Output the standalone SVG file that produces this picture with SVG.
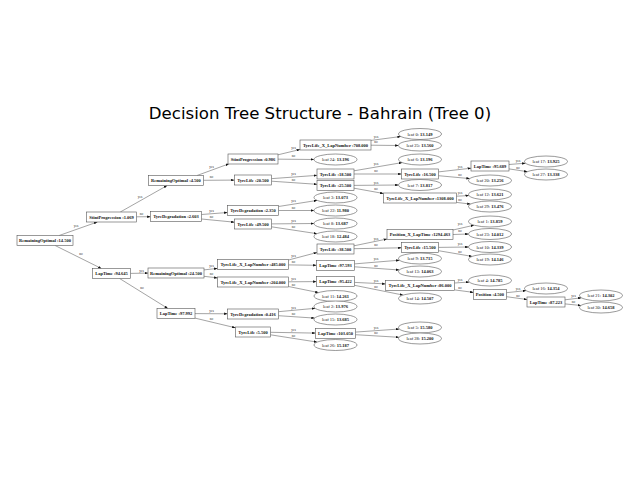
<svg xmlns="http://www.w3.org/2000/svg" width="640" height="480" viewBox="0 0 640 480">
<defs>
<style>
.bx{fill:#fff;stroke:#555;stroke-width:0.6}
.lf{fill:#fff;stroke:#555;stroke-width:0.6}
.t{font-family:"Liberation Serif","Times New Roman",serif;font-size:4.5px;text-anchor:middle;fill:#111}
.b{font-weight:bold}
.e{stroke:#333;stroke-width:0.45;fill:none;marker-end:url(#arr)}
.l{font-family:"Liberation Serif","Times New Roman",serif;font-size:3.4px;text-anchor:middle;fill:#222}
.title{font-family:"DejaVu Sans",sans-serif;font-size:16.6px;text-anchor:middle;fill:#000}
</style>
<marker id="arr" viewBox="0 0 4 3" refX="4" refY="1.5" markerWidth="3.4" markerHeight="2.6" markerUnits="userSpaceOnUse" orient="auto">
<path d="M0,0 L4,1.5 L0,3 z" fill="#111"/>
</marker>
</defs>
<rect width="640" height="480" fill="#fff"/>
<text class="title" x="320" y="119">Decision Tree Structure - Bahrain (Tree 0)</text>

<g id="edges">
<path class="e" d="M59.15,235.5 L97.35,222"/>
<path class="e" d="M55.1,245.5 L101.4,268.5"/>
<path class="e" d="M120.3,212 L167.2,185.5"/>
<path class="e" d="M136.5,216.8 L150.5,216.7"/>
<path class="e" d="M130.5,273.4 L148,273.1"/>
<path class="e" d="M119.6,278.5 L167.9,308.5"/>
<path class="e" d="M197,175.5 L229,163.8"/>
<path class="e" d="M203.5,180.3 L234.5,180.1"/>
<path class="e" d="M201.5,214.5 L227.5,212.5"/>
<path class="e" d="M201.5,219 L234.5,222.2"/>
<path class="e" d="M204,269.9 L217.5,268.4"/>
<path class="e" d="M204,276.3 L217.5,277.9"/>
<path class="e" d="M195,313.6 L227.5,313.8"/>
<path class="e" d="M195,318.1 L235.5,327.8"/>
<path class="e" d="M278,154.8 L300,149.5"/>
<path class="e" d="M278,159.15 L314,159.5"/>
<path class="e" d="M271.5,178.65 L317,175.35"/>
<path class="e" d="M271.5,181.2 L317,184.3"/>
<path class="e" d="M278.5,206.5 L317.2,200.4"/>
<path class="e" d="M278.5,210.5 L314,210.5"/>
<path class="e" d="M271.5,223.9 L314,223.5"/>
<path class="e" d="M271.5,226.8 L317,233.7"/>
<path class="e" d="M288.5,260 L317,252.5"/>
<path class="e" d="M288.5,264.9 L316.5,265.3"/>
<path class="e" d="M288.5,281.8 L316.5,281.6"/>
<path class="e" d="M288.5,286.5 L318.6,292.6"/>
<path class="e" d="M278.5,311.7 L315.2,308.3"/>
<path class="e" d="M278.5,315.7 L314.7,318.1"/>
<path class="e" d="M270.5,332.3 L315.5,333.1"/>
<path class="e" d="M270.5,334.8 L317.2,342.1"/>
<path class="e" d="M371,140.4 L400.8,136.5"/>
<path class="e" d="M371,145.2 L398.5,145.5"/>
<path class="e" d="M354,170.8 L402.1,162.6"/>
<path class="e" d="M354,174 L401.5,174"/>
<path class="e" d="M354,185.4 L398.5,185"/>
<path class="e" d="M354,188.2 L383.5,193.5"/>
<path class="e" d="M354,245.8 L387,239"/>
<path class="e" d="M354,248.7 L401.5,247.8"/>
<path class="e" d="M354.5,263.9 L399.5,260.2"/>
<path class="e" d="M354.5,266.8 L399.3,270"/>
<path class="e" d="M354.5,282.4 L385.5,283.9"/>
<path class="e" d="M354.5,285.3 L403.1,295.1"/>
<path class="e" d="M355.5,332.1 L399.3,329"/>
<path class="e" d="M355.5,334.7 L399.1,337.3"/>
<path class="e" d="M438.5,171.9 L471,168.2"/>
<path class="e" d="M438.5,175.7 L469.8,178.6"/>
<path class="e" d="M456.5,196.2 L468.9,195.6"/>
<path class="e" d="M456.5,202.4 L470.6,204.1"/>
<path class="e" d="M453,230 L474,225.2"/>
<path class="e" d="M453,234.5 L468.5,234"/>
<path class="e" d="M438.5,247.4 L468.5,247"/>
<path class="e" d="M438.5,250.7 L472.1,256.4"/>
<path class="e" d="M454.5,283 L469.3,282"/>
<path class="e" d="M454.5,289.9 L473.5,292.4"/>
<path class="e" d="M509,164.5 L525.5,163.2"/>
<path class="e" d="M509,168.9 L527.5,171.7"/>
<path class="e" d="M506.5,292.7 L526.1,290.6"/>
<path class="e" d="M506.5,296.7 L527,299.5"/>
<path class="e" d="M565,299.8 L581.5,297.8"/>
<path class="e" d="M565,303.9 L581,305.5"/>
<text class="l" x="76" y="227">yes</text>
<text class="l" x="81" y="255">no</text>
<text class="l" x="140" y="198">yes</text>
<text class="l" x="141.5" y="215">no</text>
<text class="l" x="141.5" y="271.5">yes</text>
<text class="l" x="142" y="288.5">no</text>
<text class="l" x="211.5" y="168.4">yes</text>
<text class="l" x="211.5" y="178.3">no</text>
<text class="l" x="211.5" y="211.9">yes</text>
<text class="l" x="211.5" y="218.2">no</text>
<text class="l" x="211.5" y="267.2">yes</text>
<text class="l" x="211.5" y="275.3">no</text>
<text class="l" x="211.5" y="311.9">yes</text>
<text class="l" x="211.5" y="320.2">no</text>
<text class="l" x="293.5" y="149.3">yes</text>
<text class="l" x="293.5" y="157.4">no</text>
<text class="l" x="293.5" y="175.2">yes</text>
<text class="l" x="293.5" y="180.9">no</text>
<text class="l" x="293.5" y="202.3">yes</text>
<text class="l" x="293.5" y="208.7">no</text>
<text class="l" x="293.5" y="221.9">yes</text>
<text class="l" x="293.5" y="228.3">no</text>
<text class="l" x="293.5" y="256.9">yes</text>
<text class="l" x="293.5" y="263.2">no</text>
<text class="l" x="293.5" y="279.9">yes</text>
<text class="l" x="293.5" y="285.7">no</text>
<text class="l" x="293.5" y="308.5">yes</text>
<text class="l" x="293.5" y="314.8">no</text>
<text class="l" x="293.5" y="330.9">yes</text>
<text class="l" x="293.5" y="336.6">no</text>
<text class="l" x="376" y="137.9">yes</text>
<text class="l" x="376" y="143.4">no</text>
<text class="l" x="376" y="165.2">yes</text>
<text class="l" x="376" y="172.2">no</text>
<text class="l" x="376" y="183.5">yes</text>
<text class="l" x="376" y="190.4">no</text>
<text class="l" x="376" y="239.5">yes</text>
<text class="l" x="376" y="246.4">no</text>
<text class="l" x="376" y="260.3">yes</text>
<text class="l" x="376" y="266.5">no</text>
<text class="l" x="376" y="281.6">yes</text>
<text class="l" x="376" y="287.8">no</text>
<text class="l" x="376" y="329.1">yes</text>
<text class="l" x="376" y="334">no</text>
<text class="l" x="460" y="167.7">yes</text>
<text class="l" x="460" y="175.9">no</text>
<text class="l" x="460" y="194.1">yes</text>
<text class="l" x="460" y="201.1">no</text>
<text class="l" x="460" y="225">yes</text>
<text class="l" x="460" y="232.4">no</text>
<text class="l" x="460" y="245.4">yes</text>
<text class="l" x="460" y="252.5">no</text>
<text class="l" x="460" y="280.9">yes</text>
<text class="l" x="460" y="288.8">no</text>
<text class="l" x="518" y="162">yes</text>
<text class="l" x="518" y="168.6">no</text>
<text class="l" x="518" y="289.7">yes</text>
<text class="l" x="518" y="296.5">no</text>
<text class="l" x="573.5" y="297">yes</text>
<text class="l" x="573.5" y="302.9">no</text>
</g>

<g id="n0"><rect class="bx" x="17" y="235.5" width="56" height="10"/><text class="t b" x="45" y="242.1">RemainingOptimal :14.500</text></g>
<g id="n1"><rect class="bx" x="86.5" y="212" width="50" height="10"/><text class="t b" x="111.5" y="218.6">StintProgression :1.069</text></g>
<g id="n2"><rect class="bx" x="92.5" y="268.5" width="38" height="10"/><text class="t b" x="111.5" y="275.1">LapTime :94.645</text></g>
<g id="n3"><rect class="bx" x="148.5" y="175.5" width="55" height="10"/><text class="t b" x="176" y="182.1">RemainingOptimal :4.500</text></g>
<g id="n4"><rect class="bx" x="150.5" y="211.5" width="51" height="10"/><text class="t b" x="176" y="218.1">TyreDegradation :2.603</text></g>
<g id="n5"><rect class="bx" x="148" y="268" width="56" height="10"/><text class="t b" x="176" y="274.6">RemainingOptimal :24.500</text></g>
<g id="n6"><rect class="bx" x="157" y="308.5" width="38" height="10"/><text class="t b" x="176" y="315.1">LapTime :97.992</text></g>
<g id="n7"><rect class="bx" x="228" y="154" width="50" height="10"/><text class="t b" x="253" y="160.6">StintProgression :0.986</text></g>
<g id="n8"><rect class="bx" x="234.5" y="175" width="37" height="10"/><text class="t b" x="253" y="181.6">TyreLife :20.500</text></g>
<g id="n9"><rect class="bx" x="227.5" y="205.5" width="51" height="10"/><text class="t b" x="253" y="212.1">TyreDegradation :2.350</text></g>
<g id="n10"><rect class="bx" x="234.5" y="219" width="37" height="10"/><text class="t b" x="253" y="225.6">TyreLife :49.500</text></g>
<g id="n11"><rect class="bx" x="217.5" y="259.5" width="71" height="10"/><text class="t b" x="253" y="266.1">TyreLife_X_LapNumber :485.000</text></g>
<g id="n12"><rect class="bx" x="217.5" y="277" width="71" height="10"/><text class="t b" x="253" y="283.6">TyreLife_X_LapNumber :204.000</text></g>
<g id="n13"><rect class="bx" x="227.5" y="309" width="51" height="10"/><text class="t b" x="253" y="315.6">TyreDegradation :0.416</text></g>
<g id="n14"><rect class="bx" x="235.5" y="327" width="35" height="10"/><text class="t b" x="253" y="333.6">TyreLife :5.500</text></g>
<g id="n15"><rect class="bx" x="300" y="140" width="71" height="10"/><text class="t b" x="335.5" y="146.6">TyreLife_X_LapNumber :708.000</text></g>
<g id="n16"><rect class="bx" x="317" y="169" width="37" height="10"/><text class="t b" x="335.5" y="175.6">TyreLife :18.500</text></g>
<g id="n17"><rect class="bx" x="317" y="180.5" width="37" height="10"/><text class="t b" x="335.5" y="187.1">TyreLife :25.500</text></g>
<g id="n18"><rect class="bx" x="317" y="244" width="37" height="10"/><text class="t b" x="335.5" y="250.6">TyreLife :38.500</text></g>
<g id="n19"><rect class="bx" x="316.5" y="260.5" width="38" height="10"/><text class="t b" x="335.5" y="267.1">LapTime :97.593</text></g>
<g id="n20"><rect class="bx" x="316.5" y="276.5" width="38" height="10"/><text class="t b" x="335.5" y="283.1">LapTime :95.422</text></g>
<g id="n21"><rect class="bx" x="315.5" y="328.5" width="40" height="10"/><text class="t b" x="335.5" y="335.1">LapTime :103.050</text></g>
<g id="n22"><rect class="bx" x="401.5" y="169" width="37" height="10"/><text class="t b" x="420" y="175.6">TyreLife :16.500</text></g>
<g id="n23"><rect class="bx" x="383.5" y="193" width="73" height="10"/><text class="t b" x="420" y="199.6">TyreLife_X_LapNumber :1308.000</text></g>
<g id="n24"><rect class="bx" x="387" y="229.5" width="66" height="10"/><text class="t b" x="420" y="236.1">Position_X_LapTime :1294.463</text></g>
<g id="n25"><rect class="bx" x="401.5" y="242.5" width="37" height="10"/><text class="t b" x="420" y="249.1">TyreLife :15.500</text></g>
<g id="n26"><rect class="bx" x="385.5" y="280.5" width="69" height="10"/><text class="t b" x="420" y="287.1">TyreLife_X_LapNumber :86.000</text></g>
<g id="n27"><rect class="bx" x="471" y="161" width="38" height="10"/><text class="t b" x="490" y="167.6">LapTime :95.689</text></g>
<g id="n28"><rect class="bx" x="473.5" y="289.5" width="33" height="10"/><text class="t b" x="490" y="296.1">Position :4.500</text></g>
<g id="n29"><rect class="bx" x="527" y="297" width="38" height="10"/><text class="t b" x="546" y="303.6">LapTime :87.223</text></g>

<g id="leaf0"><ellipse class="lf" cx="420" cy="134" rx="21.5" ry="5.5"/><text class="t" x="420" y="135.6">leaf 0: <tspan class="b">13.149</tspan></text></g>
<g id="leaf25"><ellipse class="lf" cx="420" cy="145.5" rx="21.5" ry="5.5"/><text class="t" x="420" y="147.1">leaf 25: <tspan class="b">13.560</tspan></text></g>
<g id="leaf24"><ellipse class="lf" cx="335.5" cy="159.5" rx="21.5" ry="5.5"/><text class="t" x="335.5" y="161.1">leaf 24: <tspan class="b">13.196</tspan></text></g>
<g id="leaf6"><ellipse class="lf" cx="420" cy="159.5" rx="21.5" ry="5.5"/><text class="t" x="420" y="161.1">leaf 6: <tspan class="b">13.196</tspan></text></g>
<g id="leaf17"><ellipse class="lf" cx="546" cy="161.5" rx="21.5" ry="5.5"/><text class="t" x="546" y="163.1">leaf 17: <tspan class="b">13.925</tspan></text></g>
<g id="leaf27"><ellipse class="lf" cx="546" cy="174.5" rx="21.5" ry="5.5"/><text class="t" x="546" y="176.1">leaf 27: <tspan class="b">13.338</tspan></text></g>
<g id="leaf20"><ellipse class="lf" cx="490" cy="180.5" rx="21.5" ry="5.5"/><text class="t" x="490" y="182.1">leaf 20: <tspan class="b">13.256</tspan></text></g>
<g id="leaf7"><ellipse class="lf" cx="420" cy="185" rx="21.5" ry="5.5"/><text class="t" x="420" y="186.6">leaf 7: <tspan class="b">13.817</tspan></text></g>
<g id="leaf12"><ellipse class="lf" cx="490" cy="194.5" rx="21.5" ry="5.5"/><text class="t" x="490" y="196.1">leaf 12: <tspan class="b">13.621</tspan></text></g>
<g id="leaf29"><ellipse class="lf" cx="490" cy="206.5" rx="21.5" ry="5.5"/><text class="t" x="490" y="208.1">leaf 29: <tspan class="b">13.476</tspan></text></g>
<g id="leaf3"><ellipse class="lf" cx="335.5" cy="197.5" rx="21.5" ry="5.5"/><text class="t" x="335.5" y="199.1">leaf 3: <tspan class="b">13.073</tspan></text></g>
<g id="leaf22"><ellipse class="lf" cx="335.5" cy="210.5" rx="21.5" ry="5.5"/><text class="t" x="335.5" y="212.1">leaf 22: <tspan class="b">11.980</tspan></text></g>
<g id="leaf8"><ellipse class="lf" cx="335.5" cy="223.5" rx="21.5" ry="5.5"/><text class="t" x="335.5" y="225.1">leaf 8: <tspan class="b">13.687</tspan></text></g>
<g id="leaf18"><ellipse class="lf" cx="335.5" cy="236.5" rx="21.5" ry="5.5"/><text class="t" x="335.5" y="238.1">leaf 18: <tspan class="b">12.484</tspan></text></g>
<g id="leaf1"><ellipse class="lf" cx="490" cy="221.5" rx="21.5" ry="5.5"/><text class="t" x="490" y="223.1">leaf 1: <tspan class="b">13.859</tspan></text></g>
<g id="leaf23"><ellipse class="lf" cx="490" cy="234" rx="21.5" ry="5.5"/><text class="t" x="490" y="235.6">leaf 23: <tspan class="b">14.012</tspan></text></g>
<g id="leaf10"><ellipse class="lf" cx="490" cy="247" rx="21.5" ry="5.5"/><text class="t" x="490" y="248.6">leaf 10: <tspan class="b">14.339</tspan></text></g>
<g id="leaf19"><ellipse class="lf" cx="490" cy="259.5" rx="21.5" ry="5.5"/><text class="t" x="490" y="261.1">leaf 19: <tspan class="b">14.146</tspan></text></g>
<g id="leaf9"><ellipse class="lf" cx="420" cy="258.5" rx="21.5" ry="5.5"/><text class="t" x="420" y="260.1">leaf 9: <tspan class="b">13.715</tspan></text></g>
<g id="leaf13"><ellipse class="lf" cx="420" cy="271.5" rx="21.5" ry="5.5"/><text class="t" x="420" y="273.1">leaf 13: <tspan class="b">14.063</tspan></text></g>
<g id="leaf4"><ellipse class="lf" cx="490" cy="280.5" rx="21.5" ry="5.5"/><text class="t" x="490" y="282.1">leaf 4: <tspan class="b">14.785</tspan></text></g>
<g id="leaf16"><ellipse class="lf" cx="546" cy="288.5" rx="21.5" ry="5.5"/><text class="t" x="546" y="290.1">leaf 16: <tspan class="b">14.354</tspan></text></g>
<g id="leaf21"><ellipse class="lf" cx="601" cy="295.5" rx="21.5" ry="5.5"/><text class="t" x="601" y="297.1">leaf 21: <tspan class="b">14.302</tspan></text></g>
<g id="leaf30"><ellipse class="lf" cx="601" cy="307.5" rx="21.5" ry="5.5"/><text class="t" x="601" y="309.1">leaf 30: <tspan class="b">14.658</tspan></text></g>
<g id="leaf14"><ellipse class="lf" cx="420" cy="298.5" rx="21.5" ry="5.5"/><text class="t" x="420" y="300.1">leaf 14: <tspan class="b">14.507</tspan></text></g>
<g id="leaf11"><ellipse class="lf" cx="335.5" cy="296" rx="21.5" ry="5.5"/><text class="t" x="335.5" y="297.6">leaf 11: <tspan class="b">14.261</tspan></text></g>
<g id="leaf2"><ellipse class="lf" cx="335.5" cy="306.5" rx="21.5" ry="5.5"/><text class="t" x="335.5" y="308.1">leaf 2: <tspan class="b">13.976</tspan></text></g>
<g id="leaf15"><ellipse class="lf" cx="335.5" cy="319.5" rx="21.5" ry="5.5"/><text class="t" x="335.5" y="321.1">leaf 15: <tspan class="b">13.685</tspan></text></g>
<g id="leaf5"><ellipse class="lf" cx="420" cy="327.5" rx="21.5" ry="5.5"/><text class="t" x="420" y="329.1">leaf 5: <tspan class="b">15.580</tspan></text></g>
<g id="leaf28"><ellipse class="lf" cx="420" cy="338.5" rx="21.5" ry="5.5"/><text class="t" x="420" y="340.1">leaf 28: <tspan class="b">15.200</tspan></text></g>
<g id="leaf26"><ellipse class="lf" cx="335.5" cy="345" rx="21.5" ry="5.5"/><text class="t" x="335.5" y="346.6">leaf 26: <tspan class="b">15.187</tspan></text></g>
</svg>
